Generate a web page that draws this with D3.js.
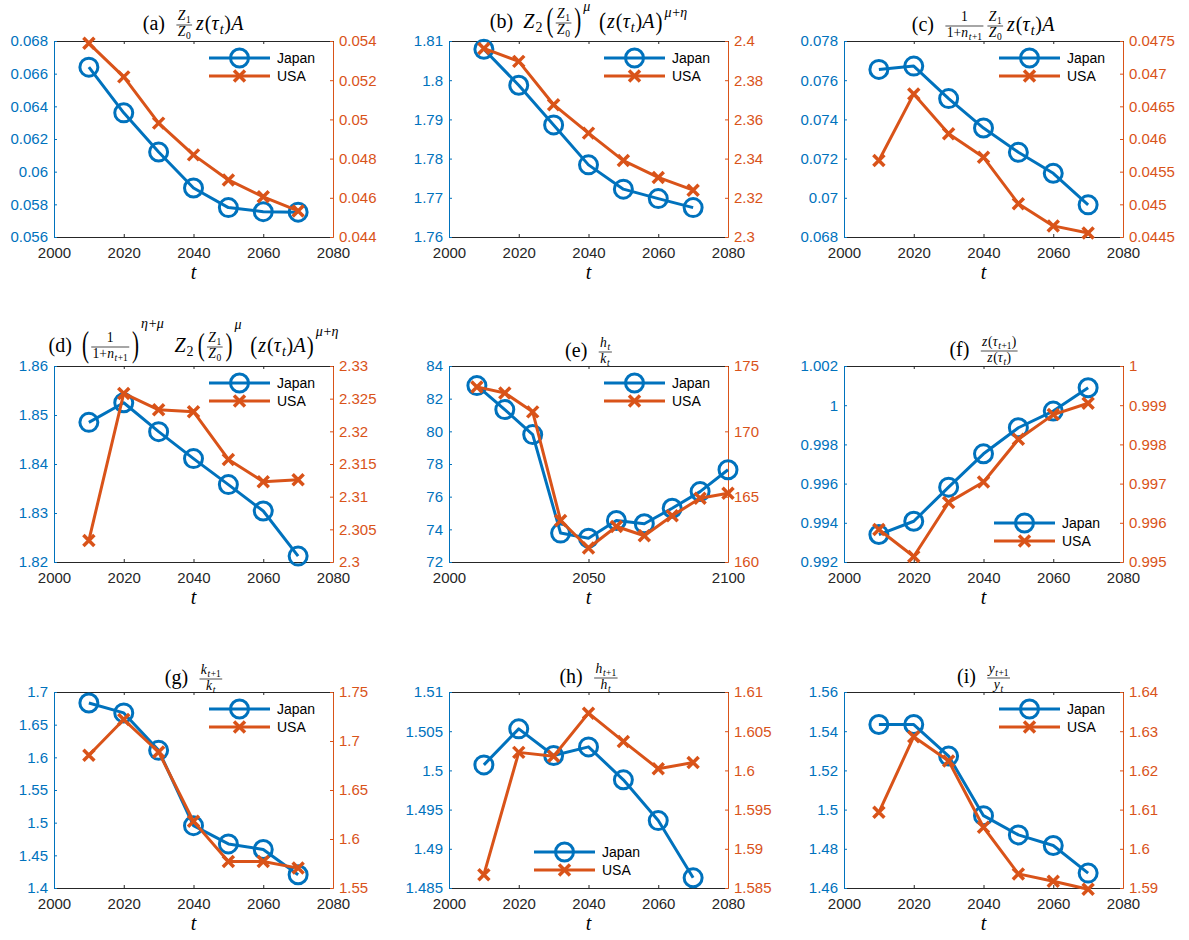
<!DOCTYPE html>
<html>
<head>
<meta charset="utf-8">
<script src="https://d3js.org/d3.v7.min.js"></script>
<style>
  body { margin: 0; background: #fff; }
  .tick text { font-family: "Liberation Sans", Arial, sans-serif; font-size: 15px; }
  .math text { font-family: "Liberation Serif", "Times New Roman", serif; fill: #000; }
  .legend text { font-family: "Liberation Sans", Arial, sans-serif; font-size: 14px; }
</style>
</head>
<body>
<div id="chart"></div>
<script>
// layout
var svgWidth = 1189;
var svgHeight = 940;
var colLeft = [54, 449, 844];
var rowTop = [41, 366, 692];
var plotW = 279;
var plotH = 196;
var titleSize = 20;

var blue = "#0072BD";
var orange = "#D95319";
var dark = "#262626";

// data
var years = [2010, 2020, 2030, 2040, 2050, 2060, 2070];
var yearsLong = [2010, 2020, 2030, 2040, 2050, 2060, 2070, 2080, 2090, 2100];
var xTicks = [2000, 2020, 2040, 2060, 2080];
var xTicksLong = [2000, 2050, 2100];
var seriesNames = ["Japan", "USA"];

var jpA = [0.0664, 0.0636, 0.0612, 0.0590, 0.0578, 0.05755, 0.05752];
var usA = [0.05388, 0.05217, 0.04981, 0.04819, 0.04691, 0.04605, 0.04533];
var leftA = [0.056, 0.058, 0.06, 0.062, 0.064, 0.066, 0.068];
var rightA = [0.044, 0.046, 0.048, 0.05, 0.052, 0.054];

var jpB = [1.8079, 1.7987, 1.7886, 1.7784, 1.7722, 1.7698, 1.7675];
var usB = [2.3962, 2.3896, 2.3675, 2.353, 2.339, 2.3304, 2.3239];
var leftB = [1.76, 1.77, 1.78, 1.79, 1.8, 1.81];
var rightB = [2.3, 2.32, 2.34, 2.36, 2.38, 2.4];

var jpC = [0.07655, 0.07672, 0.07506, 0.07356, 0.07232, 0.07125, 0.06964];
var usC = [0.04567, 0.04669, 0.04608, 0.04572, 0.04501, 0.04467, 0.04456];
var leftC = [0.068, 0.07, 0.072, 0.074, 0.076, 0.078];
var rightC = [0.0445, 0.045, 0.0455, 0.046, 0.0465, 0.047, 0.0475];

var jpD = [1.8485, 1.8525, 1.8466, 1.8411, 1.8358, 1.8304, 1.8212];
var usD = [2.3033, 2.3258, 2.3233, 2.3230, 2.3157, 2.3123, 2.3126];
var leftD = [1.82, 1.83, 1.84, 1.85, 1.86];
var rightD = [2.3, 2.305, 2.31, 2.315, 2.32, 2.325, 2.33];

var jpE = [82.8, 81.33, 79.8, 73.77, 73.46, 74.54, 74.34, 75.29, 76.31, 77.65];
var usE = [173.4, 172.94, 171.49, 163.18, 161.07, 162.72, 162.01, 163.54, 164.88, 165.26];
var leftE = [72, 74, 76, 78, 80, 82, 84];
var rightE = [160, 165, 170, 175];

var jpF = [0.9934, 0.99408, 0.99582, 0.99752, 0.99885, 0.9997, 1.00089];
var usF = [0.99583, 0.99514, 0.99652, 0.99704, 0.99813, 0.99876, 0.99905];
var leftF = [0.992, 0.994, 0.996, 0.998, 1, 1.002];
var rightF = [0.995, 0.996, 0.997, 0.998, 0.999, 1];

var jpG = [1.6832, 1.668, 1.6107, 1.4954, 1.4675, 1.4589, 1.4203];
var usG = [1.6854, 1.7219, 1.6888, 1.618, 1.5771, 1.5771, 1.5703];
var leftG = [1.4, 1.45, 1.5, 1.55, 1.6, 1.65, 1.7];
var rightG = [1.55, 1.6, 1.65, 1.7, 1.75];

var jpH = [1.5007, 1.5053, 1.5019, 1.5030, 1.4988, 1.4936, 1.4863];
var usH = [1.5867, 1.6023, 1.6018, 1.6073, 1.6037, 1.6002, 1.6010];
var leftH = [1.485, 1.49, 1.495, 1.5, 1.505, 1.51];
var rightH = [1.585, 1.59, 1.595, 1.6, 1.605, 1.61];

var jpI = [1.5434, 1.5434, 1.5273, 1.4969, 1.4871, 1.4817, 1.4676];
var usI = [1.6093, 1.6286, 1.6224, 1.6055, 1.5936, 1.5917, 1.5897];
var leftI = [1.46, 1.48, 1.5, 1.52, 1.54, 1.56];
var rightI = [1.59, 1.6, 1.61, 1.62, 1.63, 1.64];

// title pieces: r = roman, i = italic
var Z1overZ0 = ["frac", [["i", "Z"], ["sub", [["r", "1"]]]], [["i", "Z"], ["sub", [["r", "0"]]]]];
var zTauA = [["i", "z"], ["r", "("], ["i", "τ"], ["sub", [["i", "t"]]], ["r", ")"], ["i", "A"]];
var invPop = ["frac", [["r", "1"]], [["r", "1+"], ["i", "n"], ["sub", [["i", "t"], ["r", "+1"]]]]];
var muEta = [["i", "μ"], ["r", "+"], ["i", "η"]];
var ratio = function(v) {
  return ["frac", [["i", v], ["sub", [["i", "t"], ["r", "+1"]]]], [["i", v], ["sub", [["i", "t"]]]]];
};

var titleA = [["r", "(a)"], ["sp", 10], Z1overZ0, ["sp", 1]].concat(zTauA);
var titleB = [["r", "(b)"], ["sp", 10], ["i", "Z"], ["sub", [["r", "2"]]], ["sp", 4],
  ["big", "(", 1.65], Z1overZ0, ["big", ")", 1.65], ["sup", [["i", "μ"]], 0.85], ["sp", 8],
  ["big", "(", 1.3]].concat(zTauA, [["big", ")", 1.3], ["sup", muEta, 0.55]]);
var titleC = [["r", "(c)"], ["sp", 10], invPop, Z1overZ0, ["sp", 1]].concat(zTauA);
var titleD = [["r", "(d)"], ["sp", 10], ["big", "(", 1.75], invPop, ["big", ")", 1.75],
  ["sup", [["i", "η"], ["r", "+"], ["i", "μ"]], 1.2], ["sp", 10], ["i", "Z"], ["sub", [["r", "2"]]], ["sp", 4],
  ["big", "(", 1.6], Z1overZ0, ["big", ")", 1.6], ["sup", [["i", "μ"]], 1.15], ["sp", 8],
  ["big", "(", 1.3]].concat(zTauA, [["big", ")", 1.3], ["sup", muEta, 0.8]]);
var titleE = [["r", "(e)"], ["sp", 10], ["frac", [["i", "h"], ["sub", [["i", "t"]]]], [["i", "k"], ["sub", [["i", "t"]]]]]];
var titleF = [["r", "(f)"], ["sp", 10], ["frac",
  [["i", "z"], ["r", "("], ["i", "τ"], ["sub", [["i", "t"], ["r", "+1"]]], ["r", ")"]],
  [["i", "z"], ["r", "("], ["i", "τ"], ["sub", [["i", "t"]]], ["r", ")"]]]];
var titleG = [["r", "(g)"], ["sp", 10], ratio("k")];
var titleH = [["r", "(h)"], ["sp", 10], ratio("h")];
var titleI = [["r", "(i)"], ["sp", 10], ratio("y")];

var panels = [
  {title: titleA, lift: 11, x: years, xTicks: xTicks, jp: jpA, us: usA, left: leftA, right: rightA, legend: "ne"},
  {title: titleB, lift: 13, x: years, xTicks: xTicks, jp: jpB, us: usB, left: leftB, right: rightB, legend: "ne"},
  {title: titleC, lift: 10, x: years, xTicks: xTicks, jp: jpC, us: usC, left: leftC, right: rightC, legend: "ne"},
  {title: titleD, lift: 14, x: years, xTicks: xTicks, jp: jpD, us: usD, left: leftD, right: rightD, legend: "ne"},
  {title: titleE, lift: 9, x: yearsLong, xTicks: xTicksLong, jp: jpE, us: usE, left: leftE, right: rightE, legend: "ne"},
  {title: titleF, lift: 10, x: years, xTicks: xTicks, jp: jpF, us: usF, left: leftF, right: rightF, legend: "se"},
  {title: titleG, lift: 8, x: years, xTicks: xTicks, jp: jpG, us: usG, left: leftG, right: rightG, legend: "ne"},
  {title: titleH, lift: 9, x: years, xTicks: xTicks, jp: jpH, us: usH, left: leftH, right: rightH, legend: "s"},
  {title: titleI, lift: 9, x: years, xTicks: xTicks, jp: jpI, us: usI, left: leftI, right: rightI, legend: "ne"}
];

// svg container
var svg = d3.select("#chart").append("svg")
  .attr("width", svgWidth)
  .attr("height", svgHeight);

// lay out a small math expression, returns the end x
function mathLayout(g, items, x, y, s) {
  items.forEach(function(it) {
    var k = it[0];
    if (k === "r" || k === "i") {
      var t = g.append("text")
        .attr("x", x).attr("y", y)
        .attr("font-size", s)
        .attr("font-style", k === "i" ? "italic" : "normal")
        .text(it[1]);
      x += t.node().getComputedTextLength() + (k === "i" ? s * 0.05 : s * 0.01);
    } else if (k === "sp") {
      x += it[1];
    } else if (k === "sub") {
      x = mathLayout(g, it[1], x, y + s * 0.22, s * 0.7);
    } else if (k === "sup") {
      x = mathLayout(g, it[1], x + s * 0.05, y - s * (it[2] || 0.45), s * 0.7);
    } else if (k === "frac") {
      var fs = s * 0.68;
      var gn = g.append("g"), gd = g.append("g");
      var wn = mathLayout(gn, it[1], 0, 0, fs);
      var wd = mathLayout(gd, it[2], 0, 0, fs);
      var w = Math.max(wn, wd) + s * 0.25;
      gn.attr("transform", `translate(${x + (w - wn) / 2},${y - s * 0.5})`);
      gd.attr("transform", `translate(${x + (w - wd) / 2},${y + s * 0.3})`);
      g.append("line")
        .attr("x1", x + s * 0.06).attr("x2", x + w - s * 0.06)
        .attr("y1", y - s * 0.25).attr("y2", y - s * 0.25)
        .attr("stroke", "#000").attr("stroke-width", 0.7);
      x += w + s * 0.08;
    } else if (k === "big") {
      var sc = it[2];
      var base = y - s * 0.25 + 0.25 * s * sc;
      var b = g.append("text")
        .attr("transform", `translate(${x},${base}) scale(1.05,${sc})`)
        .attr("font-size", s)
        .text(it[1]);
      x += b.node().getComputedTextLength() * 1.05 + s * 0.05;
    }
  });
  return x;
}

function drawMarker(sel, type, color) {
  if (type === "o") {
    sel.append("circle")
      .attr("r", 9)
      .attr("fill", "none")
      .attr("stroke", color)
      .attr("stroke-width", 3);
  } else {
    sel.append("path")
      .attr("d", "M-5.5,-5.5L5.5,5.5M-5.5,5.5L5.5,-5.5")
      .attr("fill", "none")
      .attr("stroke", color)
      .attr("stroke-width", 3.5);
  }
}

function styleAxis(axisG, color) {
  axisG.select(".domain").attr("stroke", color);
  axisG.selectAll(".tick line").attr("stroke", color);
  axisG.selectAll(".tick text").attr("fill", color);
}

panels.forEach(function(p, i) {
  var left = colLeft[i % 3];
  var top = rowTop[Math.floor(i / 3)];
  var chartGroup = svg.append("g")
    .attr("transform", `translate(${left}, ${top})`);

  // create scales
  var xScale = d3.scaleLinear()
    .domain([p.xTicks[0], p.xTicks[p.xTicks.length - 1]])
    .range([0, plotW]);
  var yLeft = d3.scaleLinear()
    .domain([p.left[0], p.left[p.left.length - 1]])
    .range([plotH, 0]);
  var yRight = d3.scaleLinear()
    .domain([p.right[0], p.right[p.right.length - 1]])
    .range([plotH, 0]);

  // axes
  var bottomAxis = chartGroup.append("g")
    .attr("transform", `translate(0, ${plotH})`)
    .call(d3.axisBottom(xScale).tickValues(p.xTicks).tickSizeInner(-3).tickSizeOuter(0)
      .tickPadding(10).tickFormat(d => String(d)));
  styleAxis(bottomAxis, dark);

  var topAxis = chartGroup.append("g")
    .call(d3.axisTop(xScale).tickValues(p.xTicks).tickSizeInner(-3).tickSizeOuter(0).tickFormat(""));
  styleAxis(topAxis, dark);

  var leftAxis = chartGroup.append("g")
    .call(d3.axisLeft(yLeft).tickValues(p.left).tickSizeInner(-3).tickSizeOuter(0)
      .tickPadding(6).tickFormat(d => String(d)));
  styleAxis(leftAxis, blue);

  var rightAxis = chartGroup.append("g")
    .attr("transform", `translate(${plotW}, 0)`)
    .call(d3.axisRight(yRight).tickValues(p.right).tickSizeInner(-3).tickSizeOuter(0)
      .tickPadding(6).tickFormat(d => String(d)));
  styleAxis(rightAxis, orange);

  // series
  var series = [
    {pts: d3.zip(p.x, p.jp), y: yLeft, color: blue, marker: "o"},
    {pts: d3.zip(p.x, p.us), y: yRight, color: orange, marker: "x"}
  ];
  series.forEach(function(s) {
    var line = d3.line().x(d => xScale(d[0])).y(d => s.y(d[1]));
    chartGroup.append("path")
      .attr("d", line(s.pts))
      .attr("fill", "none")
      .attr("stroke", s.color)
      .attr("stroke-width", 3)
      .attr("stroke-linejoin", "round");
    chartGroup.selectAll(null)
      .data(s.pts)
      .enter()
      .append("g")
      .attr("transform", d => `translate(${xScale(d[0])}, ${s.y(d[1])})`)
      .each(function() { drawMarker(d3.select(this), s.marker, s.color); });
  });

  // legend
  var lx = plotW - 124, ly = 17;
  if (p.legend === "se") { lx = plotW - 129; ly = plotH - 39; }
  if (p.legend === "s") { lx = 85; ly = plotH - 36; }
  var legend = chartGroup.append("g").attr("class", "legend");
  seriesNames.forEach(function(name, j) {
    var row = legend.append("g").attr("transform", `translate(${lx}, ${ly + j * 18})`);
    row.append("line")
      .attr("x1", 0).attr("x2", 61)
      .attr("stroke", series[j].color)
      .attr("stroke-width", 3);
    drawMarker(row.append("g").attr("transform", "translate(30.5, 0)"), series[j].marker, series[j].color);
    row.append("text")
      .attr("x", 68)
      .attr("dy", "0.35em")
      .attr("fill", "#000")
      .text(name);
  });

  // title
  var tg = chartGroup.append("g").attr("class", "math");
  mathLayout(tg, p.title, 0, 0, titleSize);
  var bb = tg.node().getBBox();
  tg.attr("transform", `translate(${plotW / 2 - bb.x - bb.width / 2}, ${-p.lift})`);

  // x label
  chartGroup.append("g").attr("class", "math")
    .append("text")
    .attr("x", plotW / 2)
    .attr("y", plotH + 42)
    .attr("text-anchor", "middle")
    .attr("font-size", 20)
    .attr("font-style", "italic")
    .text("t");
});
</script>
</body>
</html>
